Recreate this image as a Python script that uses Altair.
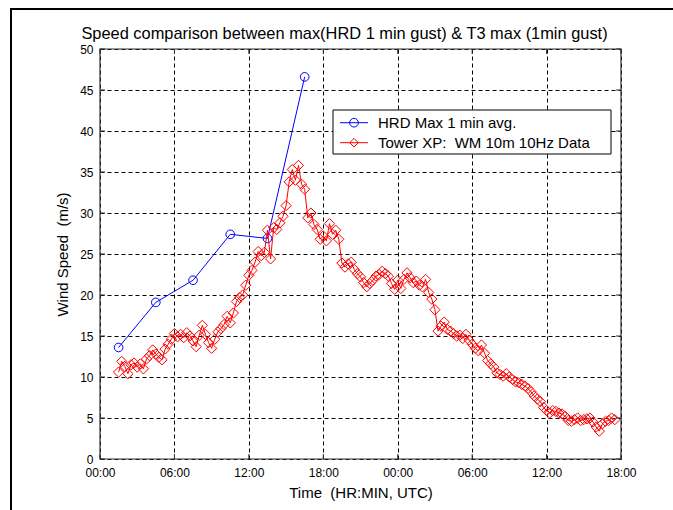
import altair as alt
import pandas as pd

# HRD maximum 1-minute averaged wind speed (hours since 00:00 UTC, m/s)
hrd_hours = [1.5, 4.5, 7.5, 10.5, 13.5, 16.5]
hrd_speed = [13.6, 19.1, 21.8, 27.4, 26.9, 46.6]

# Tower XP wind monitor, 10 m, 1-min gust maxima sampled every 15 minutes
tower_start = 1.5
tower_step = 0.25
tower_speed = [
    10.6, 11.9, 11.3, 10.4, 11.5, 11.7, 11.2, 11.6, 11.0, 12.2,
    12.6, 13.3, 12.8, 12.4, 12.1, 13.4, 14.0, 14.6, 15.3, 14.9,
    15.2, 14.8, 15.4, 15.0, 14.4, 13.7, 15.1, 16.3, 15.2, 14.2,
    13.5, 14.6, 15.5, 15.9, 16.4, 17.4, 16.6, 17.8, 19.2, 19.7,
    20.0, 21.2, 22.4, 23.0, 24.0, 25.3, 24.8, 25.2, 27.9, 24.4,
    28.2, 28.0, 28.8, 29.6, 30.9, 33.8, 35.3, 34.0, 35.8, 33.5,
    32.9, 29.4, 30.0, 28.6, 28.0, 26.8, 27.2, 26.6, 28.7, 27.4,
    27.9, 26.8, 23.9, 23.4, 23.8, 24.0, 23.1, 22.6, 22.2, 21.5,
    21.0, 21.4, 21.8, 22.3, 22.5, 22.9, 22.6, 22.3, 21.4, 20.7,
    21.8, 20.8, 21.9, 22.7, 22.1, 21.5, 21.7, 21.2, 21.0, 21.9,
    20.3, 19.5, 18.2, 15.6, 16.2, 16.7, 15.8, 15.6, 15.3, 15.0,
    15.1, 14.7, 15.2, 14.5, 14.0, 13.5, 13.2, 13.9, 12.9, 12.0,
    11.6, 11.2, 10.5, 10.3, 10.1, 10.4, 10.0, 9.7, 9.4, 9.3,
    9.1, 8.9, 8.6, 8.2, 7.7, 7.3, 7.0, 6.3, 5.9, 5.6,
    5.9, 5.8, 5.6, 5.5, 5.2, 4.7, 4.6, 4.8, 5.0, 4.7,
    4.8, 4.9, 5.0, 4.5, 3.9, 3.4, 4.3, 4.6, 4.7, 5.0,
    4.8,
]
tower_hours = [tower_start + i * tower_step for i in range(len(tower_speed))]

x_ticks = [0, 6, 12, 18, 24, 30, 36, 42]
y_ticks = [0, 5, 10, 15, 20, 25, 30, 35, 40, 45, 50]

series_names = ["HRD Max 1 min avg.", "Tower XP: \u00a0WM 10m 10Hz Data"]
series_colors = ["#0000ff", "#ff0000"]
series_shapes = ["circle", "diamond"]

W, H = 521, 410
FONT = "Liberation Sans"

hrd_df = pd.DataFrame({"hours": hrd_hours, "speed": hrd_speed})
tower_df = pd.DataFrame({"hours": tower_hours, "speed": tower_speed})
xt_df = pd.DataFrame({"hours": x_ticks})
yt_df = pd.DataFrame({"speed": y_ticks})
legend_df = pd.DataFrame({
    "label": series_names,
    "color": series_colors,
    "shape": series_shapes,
    "row": list(range(len(series_names))),
})

x_enc = alt.X(
    "hours:Q",
    scale=alt.Scale(domain=[0, 42], nice=False, zero=False),
    axis=alt.Axis(
        values=x_ticks,
        labelExpr="(datum.value % 24 < 10 ? '0' : '') + (datum.value % 24) + ':00'",
        title="Time \u00a0(HR:MIN, UTC)",
        grid=True, gridDash=[4, 3], gridColor="#000000", gridWidth=1, gridOpacity=1,
        ticks=False, tickSize=0, domain=False,
        labelPadding=8, labelFontSize=12, labelColor="#000000", labelFont=FONT,
        labelFlush=False, labelOverlap=False,
        titleFontSize=15, titleFontWeight="normal", titleColor="#000000", titleFont=FONT,
        titleX=W / 2, titleY=33, titleBaseline="middle",
    ),
)
y_enc = alt.Y(
    "speed:Q",
    scale=alt.Scale(domain=[0, 50], nice=False, zero=False),
    axis=alt.Axis(
        values=y_ticks,
        title="Wind Speed \u00a0(m/s)",
        grid=True, gridDash=[4, 3], gridColor="#000000", gridWidth=1, gridOpacity=1,
        ticks=False, tickSize=0, domain=False,
        labelPadding=7, labelFontSize=12, labelColor="#000000", labelFont=FONT,
        labelFlush=False, labelOverlap=False,
        titleFontSize=15, titleFontWeight="normal", titleColor="#000000", titleFont=FONT,
        titleX=-38, titleY=H / 2, titleBaseline="middle", titleAngle=270,
    ),
)

hrd_line = alt.Chart(hrd_df).mark_line(color=series_colors[0], strokeWidth=1).encode(x=x_enc, y=y_enc)
hrd_pts = alt.Chart(hrd_df).mark_point(
    shape=series_shapes[0], color=series_colors[0], filled=False, size=75, strokeWidth=1, opacity=1
).encode(x=x_enc, y=y_enc)

tower_line = alt.Chart(tower_df).mark_line(color=series_colors[1], strokeWidth=1).encode(x=x_enc, y=y_enc)
tower_pts = alt.Chart(tower_df).mark_point(
    shape=series_shapes[1], color=series_colors[1], filled=False, size=105, strokeWidth=1, opacity=1
).encode(x=x_enc, y=y_enc)

# inward tick marks on all four sides of the axes box
tick_len = 5
xt_bottom = alt.Chart(xt_df).mark_rule(color="#333333").encode(
    x=x_enc, y=alt.value(H), y2=alt.value(H - tick_len))
xt_top = alt.Chart(xt_df).mark_rule(color="#333333").encode(
    x=x_enc, y=alt.value(0), y2=alt.value(tick_len))
yt_left = alt.Chart(yt_df).mark_rule(color="#333333").encode(
    y=y_enc, x=alt.value(0), x2=alt.value(tick_len))
yt_right = alt.Chart(yt_df).mark_rule(color="#333333").encode(
    y=y_enc, x=alt.value(W), x2=alt.value(W - tick_len))

# axes box
box = alt.Chart(alt.Data(values=[{}])).mark_rect(
    fill=None, stroke="#333333", strokeWidth=1.2
).encode(x=alt.value(0), x2=alt.value(W), y=alt.value(0), y2=alt.value(H))

# legend
lg_x0, lg_x1, lg_y0, lg_y1 = 233, 511, 61, 105
legend_box = alt.Chart(alt.Data(values=[{}])).mark_rect(
    fill="white", stroke="#000000", strokeWidth=1
).encode(x=alt.value(lg_x0), x2=alt.value(lg_x1), y=alt.value(lg_y0), y2=alt.value(lg_y1))
legend_base = alt.Chart(legend_df).transform_calculate(ly="datum.row * 20 + 73.7")
legend_lines = legend_base.mark_rule(strokeWidth=1).encode(
    x=alt.value(240), x2=alt.value(268), y=alt.Y("ly:Q", scale=None),
    color=alt.Color("color:N", scale=None))
legend_marks = legend_base.mark_point(filled=False, size=75, strokeWidth=1, opacity=1).encode(
    x=alt.value(254), y=alt.Y("ly:Q", scale=None),
    color=alt.Color("color:N", scale=None), shape=alt.Shape("shape:N", scale=None))
legend_text = legend_base.mark_text(
    align="left", baseline="middle", fontSize=15, font=FONT, color="#000000"
).encode(x=alt.value(278), y=alt.Y("ly:Q", scale=None), text="label:N")

# outer figure border (left and top edges)
frame_left = alt.Chart(alt.Data(values=[{}])).mark_rule(color="#000000", strokeWidth=2).encode(
    x=alt.value(-89), y=alt.value(-40), y2=alt.value(H + 60))
frame_top = alt.Chart(alt.Data(values=[{}])).mark_rule(color="#000000", strokeWidth=2).encode(
    x=alt.value(-90), x2=alt.value(W + 60), y=alt.value(-40))

chart = alt.layer(
    hrd_line, hrd_pts, tower_line, tower_pts,
    xt_bottom, xt_top, yt_left, yt_right, box,
    legend_box, legend_lines, legend_marks, legend_text,
    frame_left, frame_top,
).properties(
    width=W, height=H,
    title=alt.TitleParams(
        "Speed comparison between max(HRD 1 min gust) & T3 max (1min gust)",
        fontSize=16.4, fontWeight="normal", font=FONT, color="#000000",
        anchor="middle", offset=8, dy=42, dx=-16,
    ),
    autosize=alt.AutoSizeParams(type="none"),
    padding={"left": 100, "top": 49, "right": 52, "bottom": 51},
    background="white",
).configure_view(stroke=None)

chart.save("out.html", embed_options={"renderer": "svg", "actions": False})
